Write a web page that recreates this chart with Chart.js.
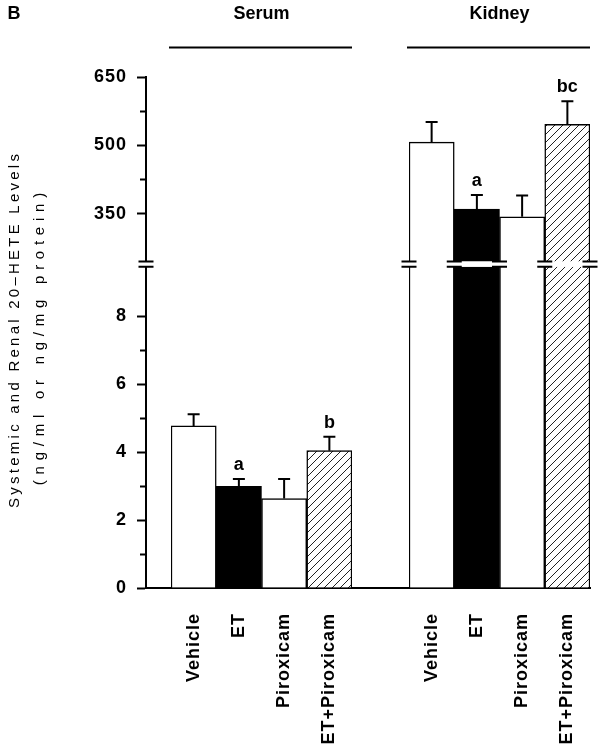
<!DOCTYPE html>
<html>
<head>
<meta charset="utf-8">
<script src="https://cdn.jsdelivr.net/npm/chart.js@4.4.1/dist/chart.umd.min.js"></script>
<style>
  html, body { margin: 0; padding: 0; background: #fff; }
  #wrap { width: 604px; height: 751px; }
</style>
</head>
<body>
<div id="wrap"><canvas id="hete"></canvas></div>
<script>
// values (mean, upward SEM bar)
const treatments = ['Vehicle', 'ET', 'Piroxicam', 'ET+Piroxicam'];
const groups = ['Serum', 'Kidney'];
const serumValues = [4.77, 2.99, 2.63, 4.04];
const serumErrors = [0.34, 0.22, 0.58, 0.41];
const kidneyValues = [507, 360, 343, 546];
const kidneyErrors = [44, 31, 47, 51];
const serumLetters = ['', 'a', '', 'b'];
const kidneyLetters = ['', 'a', '', 'bc'];

// broken y axis: low part 0-9.45, high part 245-650
const lowTicks = [0, 1, 2, 3, 4, 5, 6, 7, 8];
const lowLabels = [0, 2, 4, 6, 8];
const highTicks = [350, 425, 500, 575, 650];
const highLabels = [350, 500, 650];
const yTitle = ['Systemic and Renal 20\u2013HETE Levels', '(ng/ml or ng/mg protein)'];

const FAMILY = '"Liberation Sans", Arial, Helvetica, sans-serif';
const canvas = document.getElementById('hete');
const ctx = canvas.getContext('2d');

function hatchPattern() {
    const tile = document.createElement('canvas');
    tile.width = 8;
    tile.height = 8;
    const g = tile.getContext('2d');
    g.fillStyle = '#fff';
    g.fillRect(0, 0, 8, 8);
    g.strokeStyle = '#222';
    g.lineWidth = 1;
    g.beginPath();
    g.moveTo(0, 8); g.lineTo(8, 0);
    g.moveTo(-1, 1); g.lineTo(1, -1);
    g.moveTo(7, 9); g.lineTo(9, 7);
    g.stroke();
    return ctx.createPattern(tile, 'repeat');
}
const fills = ['#fff', '#000', '#fff', hatchPattern()];

const tickFont = { family: FAMILY, size: 18, weight: 'bold' };

// clip each half of the kidney bars to its own part of the broken axis
const regionClip = {
    id: 'regionClip',
    beforeDatasetDraw(chart, args) {
        const region = chart.data.datasets[args.index].region;
        if (!region) return;
        const s = chart.scales[region];
        chart.ctx.save();
        chart.ctx.beginPath();
        chart.ctx.rect(0, region === 'yHigh' ? 0 : s.top, chart.width, region === 'yHigh' ? s.bottom : s.bottom - s.top + 2);
        chart.ctx.clip();
    },
    afterDatasetDraw(chart, args) {
        if (chart.data.datasets[args.index].region) chart.ctx.restore();
    }
};

const spacing = {
    id: 'spacing',
    beforeLayout(chart) { chart.ctx.letterSpacing = '1px'; },
    beforeDraw(chart) { chart.ctx.letterSpacing = '1px'; }
};

const errorBars = {
    id: 'errorBars',
    afterDatasetsDraw(chart) {
        const c = chart.ctx;
        chart.data.datasets.forEach((ds, i) => {
            if (!ds.errors) return;
            const meta = chart.getDatasetMeta(i);
            const y = chart.scales[meta.yAxisID];
            meta.data.forEach((bar, j) => {
                const top = y.getPixelForValue(ds.data[j] + ds.errors[j]);
                c.save();
                c.strokeStyle = '#000';
                c.lineWidth = 2;
                c.beginPath();
                c.moveTo(bar.x, bar.y);
                c.lineTo(bar.x, top);
                c.moveTo(bar.x - 6, top);
                c.lineTo(bar.x + 6, top);
                c.stroke();
                if (ds.letters[j]) {
                    c.letterSpacing = '0px';
                    c.fillStyle = '#000';
                    c.font = 'bold 18px ' + FAMILY;
                    c.textAlign = 'center';
                    c.textBaseline = 'alphabetic';
                    c.fillText(ds.letters[j], bar.x, top - 9);
                }
                c.restore();
            });
        });
    }
};

// "=" marks where the axis and the kidney bars are broken
const breakMarks = {
    id: 'breakMarks',
    afterDatasetsDraw(chart) {
        const c = chart.ctx;
        const yA = chart.scales.yHigh.bottom;
        const yB = chart.scales.yLow.top;
        const edges = [chart.chartArea.left];
        chart.getDatasetMeta(2).data.forEach(bar => {
            const half = bar.width / 2;
            [bar.x - half, bar.x + half].forEach(e => {
                if (!edges.some(v => Math.abs(v - e) < 2)) edges.push(e);
            });
        });
        c.save();
        c.strokeStyle = '#000';
        c.lineWidth = 2;
        c.beginPath();
        edges.forEach(e => {
            [yA, yB].forEach(yy => {
                c.moveTo(e - 7.5, yy);
                c.lineTo(e + 7.5, yy);
            });
        });
        c.stroke();
        c.restore();
    }
};

const labels = {
    id: 'labels',
    afterDraw(chart) {
        const c = chart.ctx;
        c.save();
        c.letterSpacing = '0px';
        c.fillStyle = '#000';
        c.strokeStyle = '#000';
        c.font = 'bold 18px ' + FAMILY;
        c.textBaseline = 'middle';
        c.textAlign = 'center';
        c.fillText('B', 14, 14);
        [chart.scales.xSerum, chart.scales.xKidney].forEach((s, i) => {
            c.fillText(groups[i], (s.left + s.right) / 2, 14);
            c.lineWidth = 2;
            c.beginPath();
            c.moveTo(s.left - 2, 47.5);
            c.lineTo(s.right, 47.5);
            c.stroke();
        });
        // rotated y title, stretched like the original
        c.font = '15px ' + FAMILY;
        const place = [[15, 331, 357], [40, 339, 298]];
        yTitle.forEach((t, i) => {
            const [x, y, len] = place[i];
            c.letterSpacing = '0px';
            const w = c.measureText(t).width;
            const s = (len - w) / t.length;
            c.letterSpacing = s + 'px';
            c.save();
            c.translate(x, y);
            c.rotate(-Math.PI / 2);
            c.fillText(t, s / 2, 0);
            c.restore();
        });
        c.restore();
    }
};

function yAxis(min, max, ticks, major, stackWeight, weight) {
    return {
        type: 'linear', position: 'left', stack: 'y', stackWeight, weight, min, max,
        afterBuildTicks: s => { s.ticks = ticks.map(v => ({ value: v })); },
        afterFit: s => { s.width = 86; },
        ticks: { callback: v => major.includes(v) ? v : '', color: '#000', font: tickFont, padding: 10 },
        grid: {
            drawOnChartArea: false, tickLength: 9, tickColor: '#000', tickWidth: 2,
            tickBorderDash: c => (c.tick && !major.includes(c.tick.value)) ? [0, 3, 6, 40] : []
        },
        border: { color: '#000', width: 2 }
    };
}

function xAxis(cats, stackWeight, weight) {
    return {
        type: 'category', labels: cats, position: 'bottom', stack: 'x', stackWeight, weight,
        afterFit: s => { s.height = 163; s.paddingLeft = 0; s.paddingRight = 0; },
        ticks: {
            display: cats.length > 1, color: '#000', font: tickFont, padding: 0,
            autoSkip: false, maxRotation: 90, minRotation: 90
        },
        // invisible tick marks only push the labels down
        grid: { drawOnChartArea: false, drawTicks: true, tickLength: 25, tickColor: 'rgba(0,0,0,0)' },
        border: { color: '#000', width: 2 }
    };
}

const barStyle = {
    backgroundColor: fills,
    borderColor: '#000',
    borderWidth: 1.5,
    grouped: false,
    barPercentage: 1,
    categoryPercentage: 1
};

const config = {
    type: 'bar',
    data: {
        datasets: [
            Object.assign({ label: groups[0], data: serumValues, errors: serumErrors, letters: serumLetters,
                xAxisID: 'xSerum', yAxisID: 'yLow' }, barStyle),
            Object.assign({ label: groups[1], data: kidneyValues, region: 'yLow', stack: 'kidney',
                xAxisID: 'xKidney', yAxisID: 'yLow' }, barStyle),
            Object.assign({ label: groups[1], data: kidneyValues, errors: kidneyErrors, letters: kidneyLetters,
                region: 'yHigh', stack: 'kidney', xAxisID: 'xKidney', yAxisID: 'yHigh' }, barStyle)
        ]
    },
    options: {
        responsive: true,
        maintainAspectRatio: false,
        animation: false,
        events: [],
        layout: { padding: { left: 60, top: 77, right: 14, bottom: 0 } },
        plugins: { legend: { display: false }, tooltip: { enabled: false } },
        scales: {
            yHigh: yAxis(245, 650, highTicks, highLabels, 184.4, 2),
            yGap: {
                type: 'linear', position: 'left', stack: 'y', stackWeight: 5.3, weight: 1,
                afterFit: s => { s.width = 86; },
                ticks: { display: false }, grid: { display: false }, border: { display: false }
            },
            yLow: yAxis(0, 9.45, lowTicks, lowLabels, 321, 0),
            xPadL: xAxis([''], 25, 0),
            xSerum: xAxis(treatments, 181, 1),
            xGap: xAxis([''], 57, 2),
            xKidney: xAxis(treatments, 181, 3)
        }
    },
    plugins: [spacing, regionClip, errorBars, breakMarks, labels]
};

new Chart(ctx, config);
</script>
</body>
</html>
